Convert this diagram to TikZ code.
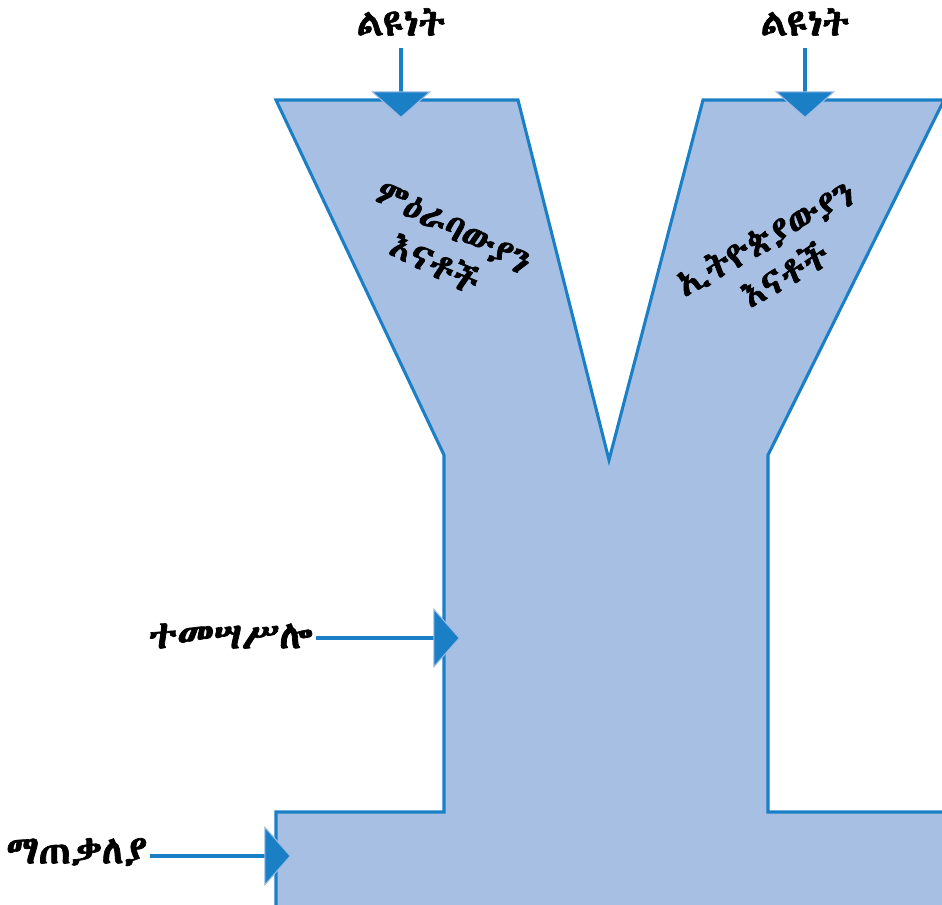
\documentclass[tikz,border=0pt]{standalone}
\usepackage{fontspec}
\usetikzlibrary{arrows.meta}
\IfFontExistsTF{Abyssinica SIL}{\newfontfamily\eth[FakeBold=1.8]{Abyssinica SIL}}{%
  \IfFontExistsTF{FreeSerif}{\newfontfamily\eth[FakeBold=1.8]{FreeSerif}}{\newfontfamily\eth{DejaVu Sans}}}
\definecolor{shapefill}{HTML}{A7BFE3}
\definecolor{shapeline}{HTML}{1B7FC6}
\definecolor{headlight}{HTML}{9DBBE5}
\tikzset{
  yshape/.style={fill=shapefill, draw=shapeline, line width=2.3pt, line join=miter},
  lbl/.style={font=\eth\fontsize{28}{32}\selectfont, text=black, inner sep=2pt},
  sidelbl/.style={font=\eth\fontsize{29.5}{32}\selectfont, text=black, inner sep=2pt},
  inlbl/.style={font=\eth\fontsize{27}{31}\selectfont, text=black, align=center, inner sep=0pt},
  conn/.style={draw=shapeline, line width=2.3pt,
    -{Triangle[length=20pt,width=45pt,color=headlight,fill=shapeline,line width=0.8pt]}},
}
\begin{document}
\begin{tikzpicture}[x=0.75pt,y=-0.75pt]
\useasboundingbox (0,0) rectangle (942,904);
\clip (0,0) rectangle (942,904);
% Y shape
\draw[yshape] (276,100) -- (518,100) -- (609,460) -- (703,100) -- (944,100)
  -- (768,455) -- (768,812) -- (980,812) -- (980,940) -- (276,940)
  -- (276,812) -- (444,812) -- (444,455) -- cycle;
% labels
\node[lbl] (d1) at (401,22) {ልዩነት};
\node[lbl] (d2) at (805,22) {ልዩነት};
\node[sidelbl, anchor=east] (sim) at (316,636) {ተመሣሥሎ};
\node[sidelbl, anchor=east] (sum) at (150,852) {ማጠቃለያ};
\node[inlbl, rotate=-27] (west) at (444,246) {ምዕራባውያን\\እናቶች};
\node[inlbl, rotate=29] (eth) at (775,256) {ኢትዮጵያውያን\\እናቶች};
% target points
\coordinate (t1) at (401,118);
\coordinate (t2) at (805,118);
\coordinate (t3) at (460,638);
\coordinate (t4) at (291,856);
\coordinate (s1) at (401,48);
\coordinate (s2) at (805,48);
% connectors
\draw[conn] (s1) -- (t1);
\draw[conn] (s2) -- (t2);
\draw[conn] (sim.east |- t3) -- (t3);
\draw[conn] (sum.east |- t4) -- (t4);
\end{tikzpicture}
\end{document}
